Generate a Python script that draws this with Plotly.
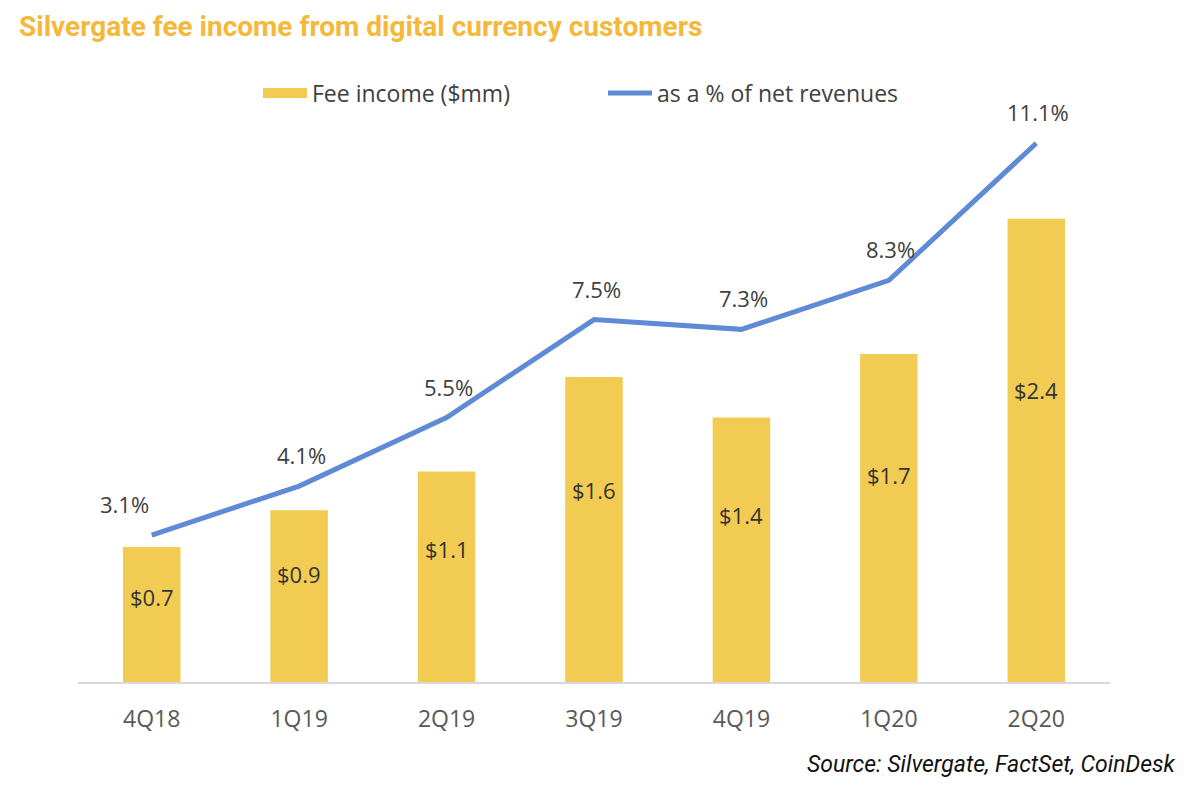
import plotly.graph_objects as go

quarters = ["4Q18", "1Q19", "2Q19", "3Q19", "4Q19", "1Q20", "2Q20"]
fee_income = [0.70, 0.89, 1.09, 1.58, 1.37, 1.70, 2.40]
fee_labels = ["$0.7", "$0.9", "$1.1", "$1.6", "$1.4", "$1.7", "$2.4"]
pct_revenue = [3.1, 4.1, 5.5, 7.5, 7.3, 8.3, 11.1]
pct_labels = ["3.1%", "4.1%", "5.5%", "7.5%", "7.3%", "8.3%", "11.1%"]

BAR = "#F2CB52"
LINE = "#5F8AD6"
TXT = "#404040"
FONT = "Open Sans"

OFF = 8  # page body margin
W, H = 1200, 795
L, T = 78 - OFF, 130 - OFF
R = W - (1110 - OFF)
B = H - (682 - OFF)
pw, ph = W - L - R, H - T - B


def px(x):
    return (x - OFF - L) / pw


def py(y):
    return (H - B - (y - OFF)) / ph


fig = go.Figure()
fig.add_trace(go.Bar(x=quarters, y=fee_income, name="Fee income ($mm)",
                     marker=dict(color=BAR, line=dict(width=0)), width=0.39,
                     yaxis="y", showlegend=False))
# legend entry drawn as wide swatch
fig.add_trace(go.Scatter(x=[None], y=[None], name="Fee income ($mm)", mode="lines",
                         line=dict(color=BAR, width=14), yaxis="y"))
fig.add_trace(go.Scatter(x=quarters, y=pct_revenue, name="as a % of net revenues",
                         mode="lines", line=dict(color=LINE, width=5),
                         yaxis="y2"))

annotations = []
for i, (q, v, lab) in enumerate(zip(quarters, fee_income, fee_labels)):
    annotations.append(dict(x=q, y=v * 0.63, xref="x", yref="y", text=lab,
                            showarrow=False, font=dict(family=FONT, size=22, color="#333333")))
for i, (q, v, lab) in enumerate(zip(quarters, pct_revenue, pct_labels)):
    annotations.append(dict(x=q, y=v, xref="x", yref="y2", text=lab, showarrow=False,
                            yshift=31, xshift=-27 if i == 0 else 2,
                            font=dict(family=FONT, size=22, color=TXT)))
annotations.append(dict(x=px(17), y=py(8), xref="paper", yref="paper",
                        text="<b>Silvergate fee income from digital currency customers</b>",
                        showarrow=False, xanchor="left", yanchor="top",
                        font=dict(family="Roboto", size=28, color="#F5B83A")))
annotations.append(dict(text="<i>Source: Silvergate, FactSet, CoinDesk</i>", showarrow=False,
                        xref="paper", yref="paper", x=px(1178), y=py(765),
                        xanchor="right", yanchor="middle",
                        font=dict(family="Roboto", size=23, color="#111111")))

fig.update_layout(
    width=W, height=H,
    margin=dict(l=L, r=R, t=T, b=B),
    paper_bgcolor="white", plot_bgcolor="white",
    showlegend=True,
    legend=dict(orientation="h", x=px(258), xanchor="left", y=py(93), yanchor="middle",
                font=dict(family=FONT, size=23, color=TXT), entrywidth=286,
                itemwidth=44, bgcolor="rgba(0,0,0,0)"),
    xaxis=dict(showline=True, linecolor="#D9D9D9", linewidth=2, ticks="",
               tickfont=dict(family=FONT, size=23, color="#595959"),
               showgrid=False, zeroline=False, ticklabelstandoff=15),
    yaxis=dict(range=[0, 2.86], visible=False, showgrid=False, zeroline=False),
    yaxis2=dict(range=[0.1, 11.37], overlaying="y", side="right", visible=False,
                showgrid=False, zeroline=False),
    annotations=annotations,
    bargap=0.61,
)

fig.write_html("out.html")
